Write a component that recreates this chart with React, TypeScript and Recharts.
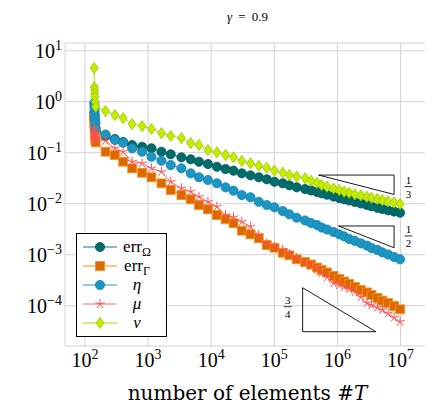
import * as React from "react";
import { CartesianGrid, Legend, Line, LineChart, ReferenceDot, ReferenceLine, XAxis, YAxis } from "recharts";

// number of elements per adaptive step (first few steps stay on the initial mesh)
const elements = [
  140, 141, 142, 143, 144, 146, 148,
  212, 298, 403, 559, 804, 1132, 1629, 2285, 3374, 4733,
  6402, 8879, 12310, 16880, 22580, 30560, 41880, 56700, 75880, 100400,
  135900, 173300, 226100, 306700, 381300, 474400, 560700, 682400, 867400, 1066000,
  1279000, 1535000, 1889000, 2350000, 2924000, 3457000, 4300000, 5155000, 6340000, 7887000, 9811000,
];

const errOmega = [
  0.6, 0.5, 0.45, 0.4, 0.35, 0.3, 0.26,
  0.215, 0.186, 0.162, 0.1416, 0.131, 0.122, 0.1046, 0.0931, 0.0813, 0.0743,
  0.0666, 0.06, 0.0531, 0.0479, 0.0444, 0.0394, 0.036, 0.033, 0.0301, 0.027,
  0.0251, 0.023, 0.021, 0.0194, 0.0182, 0.017, 0.016, 0.015, 0.0138, 0.0129,
  0.0122, 0.0116, 0.0108, 0.0101, 0.00944, 0.00889, 0.00831, 0.00787, 0.00743, 0.00703, 0.00666,
];

const errGamma = [
  0.5, 0.4, 0.32, 0.26, 0.21, 0.18, 0.16,
  0.1046, 0.0901, 0.0666, 0.0494, 0.0405, 0.033, 0.0251, 0.0186, 0.0148, 0.0122,
  0.00944, 0.00777, 0.006, 0.00494, 0.00413, 0.00296, 0.00251, 0.0021, 0.00155, 0.00137,
  0.00109, 0.000973, 0.000813, 0.000719, 0.000643, 0.000561, 0.000501, 0.000448, 0.000382, 0.000334,
  0.000298, 0.000266, 0.000233, 0.000203, 0.000182, 0.000162, 0.000142, 0.000126, 0.000113, 0.0000986, 0.000085,
];

const eta = [
  0.95, 0.8, 0.66, 0.55, 0.46, 0.38, 0.3,
  0.228, 0.1774, 0.157, 0.122, 0.1046, 0.0835, 0.0697, 0.0574, 0.0494, 0.0394,
  0.033, 0.0292, 0.0251, 0.021, 0.018, 0.0148, 0.0134, 0.0109, 0.00944, 0.00849,
  0.00719, 0.00619, 0.00531, 0.00469, 0.00419, 0.00382, 0.00341, 0.00312, 0.00279, 0.00251,
  0.00228, 0.00203, 0.00186, 0.00167, 0.00151, 0.00135, 0.00124, 0.00111, 0.00101, 0.000902, 0.000813,
];

const mu = [
  0.3, 0.27, 0.24, 0.22, 0.2, 0.19, 0.18,
  0.172, 0.122, 0.1046, 0.0666, 0.062, 0.0494, 0.0424, 0.027, 0.02, 0.0172,
  0.0137, 0.0109, 0.00873, 0.006, 0.00541, 0.00444, 0.00354, 0.00243, 0.00167, 0.00144,
  0.00124, 0.00103, 0.000861, 0.000687, 0.0006, 0.000513, 0.000438, 0.000365, 0.000279, 0.000255,
  0.000233, 0.000212, 0.000186, 0.000148, 0.000113, 0.000103, 0.0000922, 0.0000824, 0.0000703, 0.0000587, 0.0000486,
];

const nu = [
  4.6, 1.95, 1.7, 1.45, 1.25, 1.0, 0.8,
  0.657, 0.548, 0.479, 0.365, 0.334, 0.292, 0.243, 0.213, 0.194, 0.155,
  0.142, 0.113, 0.102, 0.0901, 0.0813, 0.0687, 0.062, 0.0556, 0.0508, 0.0444,
  0.0405, 0.0366, 0.0341, 0.0315, 0.0282, 0.0258, 0.0233, 0.0216, 0.0199, 0.0186,
  0.0172, 0.0164, 0.0153, 0.0146, 0.0137, 0.0131, 0.0124, 0.0118, 0.0111, 0.0106, 0.00987,
];

const xTicks = [1e2, 1e3, 1e4, 1e5, 1e6, 1e7];
const yTicks = [1e-4, 1e-3, 1e-2, 1e-1, 1, 10];
const xDecades = [10, 1e2, 1e3, 1e4, 1e5, 1e6, 1e7];
const yDecades = [1e-5, 1e-4, 1e-3, 1e-2, 1e-1, 1];
const minorSteps = [2, 3, 4, 5, 6, 7, 8, 9];

const xDomain = [48.3, 2.82e7];
const yDomain = [1.62e-5, 14.2];

// slope triangles, corners in data coordinates
const triangleThird = [[5.02e5, 0.0365], [7.89e6, 0.0365], [7.89e6, 0.0152]];
const triangleHalf = [[1.04e6, 0.00366], [7.89e6, 0.00366], [7.89e6, 0.00137]];
const triangleThreeQuarter = [[2.81e5, 2.25e-4], [2.81e5, 3.09e-5], [4.06e6, 3.09e-5]];

const slopeLabels = [
  { x: 1.33e7, y: 0.0216, num: "1", den: "3" },
  { x: 1.33e7, y: 0.00233, num: "1", den: "2" },
  { x: 1.63e5, y: 9.55e-5, num: "3", den: "4" },
];

const FONT = "Liberation Serif";
const FRAME = "#444";

const xMinor = xDecades.flatMap((d) => minorSteps.map((m) => m * d)).filter((v) => v > xDomain[0] && v < xDomain[1]);
const yMinor = yDecades.flatMap((d) => minorSteps.map((m) => m * d)).filter((v) => v > yDomain[0] && v < yDomain[1]);

const rows = elements.map((n, i) => ({
  n,
  errOmega: errOmega[i],
  errGamma: errGamma[i],
  eta: eta[i],
  mu: mu[i],
  nu: nu[i],
}));

type MarkKind = "circle" | "square" | "diamond" | "star";

type SeriesDef = {
  key: string;
  kind: MarkKind;
  line: string;
  fill: string;
  stroke: string;
  label: React.ReactNode;
};

const series: SeriesDef[] = [
  {
    key: "errOmega", kind: "circle", line: "#0a7c78", fill: "#006b6b", stroke: "#005a5a",
    label: <>err<tspan fontSize={12} dy={4}>Ω</tspan></>,
  },
  {
    key: "errGamma", kind: "square", line: "#ff8a1a", fill: "#d96a00", stroke: "#ff8a1a",
    label: <>err<tspan fontSize={12} dy={4}>Γ</tspan></>,
  },
  {
    key: "eta", kind: "circle", line: "#2a92bd", fill: "#1c96c3", stroke: "#1482b0",
    label: <tspan fontStyle="italic">η</tspan>,
  },
  {
    key: "mu", kind: "star", line: "#ff6a6a", fill: "none", stroke: "#ff4f4f",
    label: <tspan fontStyle="italic">μ</tspan>,
  },
  {
    key: "nu", kind: "diamond", line: "#a8d600", fill: "#c4ec00", stroke: "#9cc800",
    label: <tspan fontStyle="italic">ν</tspan>,
  },
];

function Mark({ kind, cx, cy, fill, stroke }: { kind: MarkKind; cx?: number; cy?: number; fill: string; stroke: string }) {
  if (cx == null || cy == null || isNaN(cx) || isNaN(cy)) return null;
  if (kind === "circle") {
    return <circle cx={cx} cy={cy} r={4.6} fill={fill} stroke={stroke} strokeWidth={0.8} />;
  }
  if (kind === "square") {
    return <rect x={cx - 4.4} y={cy - 4.4} width={8.8} height={8.8} fill={fill} stroke={stroke} strokeWidth={0.9} />;
  }
  if (kind === "diamond") {
    return (
      <polygon
        points={`${cx},${cy - 5.6} ${cx + 4},${cy} ${cx},${cy + 5.6} ${cx - 4},${cy}`}
        fill={fill}
        stroke={stroke}
        strokeWidth={0.8}
      />
    );
  }
  const rays = [90, 162, 234, 306, 18].map((a) => {
    const r = (a * Math.PI) / 180;
    return [cx + 5 * Math.cos(r), cy - 5 * Math.sin(r)];
  });
  return (
    <g stroke={stroke} strokeWidth={1}>
      {rays.map(([x, y], i) => (
        <line key={i} x1={cx} y1={cy} x2={x} y2={y} />
      ))}
    </g>
  );
}

function XTick({ x, y, payload }: any) {
  const exp = Math.round(Math.log10(payload.value));
  return (
    <text x={x} y={y + 21} textAnchor="middle" style={{ fontFamily: FONT }} fontSize={20} fill="#000">
      10<tspan dy={-8} fontSize={14}>{String(exp).replace("-", "\u2212")}</tspan>
    </text>
  );
}

function YTick({ x, y, payload }: any) {
  const exp = Math.round(Math.log10(payload.value));
  return (
    <text x={x - 3} y={y + 7} textAnchor="end" style={{ fontFamily: FONT }} fontSize={20} fill="#000">
      10<tspan dy={-8} fontSize={14}>{String(exp).replace("-", "\u2212")}</tspan>
    </text>
  );
}

const NoTick = () => <g />;

function LegendBox() {
  return (
    <div style={{ width: 91, height: 104, border: "1px solid #000", background: "#fff", boxSizing: "border-box" }}>
      <svg width={89} height={102} style={{ display: "block" }}>
        {series.map((s, i) => {
          const y = 13 + i * 19;
          return (
            <g key={s.key}>
              <line x1={6} x2={40} y1={y} y2={y} stroke={s.line} strokeWidth={1} />
              <Mark kind={s.kind} cx={23} cy={y} fill={s.fill} stroke={s.stroke} />
              <text x={60} y={y + 5} textAnchor="middle" style={{ fontFamily: FONT }} fontSize={17} fill="#000">
                {s.label}
              </text>
            </g>
          );
        })}
      </svg>
    </div>
  );
}

function Fraction({ cx, cy, num, den }: any) {
  return (
    <g style={{ fontFamily: FONT }} fontSize={11} fill="#000">
      <text x={cx} y={cy - 3} textAnchor="middle">{num}</text>
      <line x1={cx - 4} x2={cx + 4} y1={cy} y2={cy} stroke="#000" strokeWidth={0.8} />
      <text x={cx} y={cy + 11} textAnchor="middle">{den}</text>
    </g>
  );
}

function triangleEdges(tri: number[][]) {
  return tri.map((p, i) => {
    const q = tri[(i + 1) % tri.length];
    return [{ x: p[0], y: p[1] }, { x: q[0], y: q[1] }];
  });
}

const logX = { type: "number" as const, scale: "log" as const, domain: xDomain, allowDataOverflow: true, dataKey: "n" };
const logY = { type: "number" as const, scale: "log" as const, domain: yDomain, allowDataOverflow: true };

export default function App() {
  return (
    <LineChart width={425} height={409} data={rows} margin={{ top: 35, right: 4, bottom: 0, left: 0 }}>
      <CartesianGrid stroke="#d2d2d2" strokeWidth={1} />

      <XAxis {...logX} ticks={xTicks} interval={0} height={71} tickSize={0} tickMargin={0} tickLine={false} axisLine={false} tick={<XTick />} />
      <YAxis {...logY} ticks={yTicks} interval={0} width={57} tickSize={0} tickMargin={0} tickLine={false} axisLine={false} tick={<YTick />} />

      {/* inward tick marks and frame on all four sides */}
      <XAxis {...logX} xAxisId="bMaj" orientation="bottom" mirror height={0} ticks={xTicks} interval={0} tickSize={5} tick={NoTick} tickLine={{ stroke: FRAME }} axisLine={{ stroke: FRAME }} />
      <XAxis {...logX} xAxisId="bMin" orientation="bottom" mirror height={0} ticks={xMinor} interval={0} tickSize={3} tick={NoTick} tickLine={{ stroke: FRAME }} axisLine={false} />
      <XAxis {...logX} xAxisId="tMaj" orientation="top" mirror height={0} ticks={xTicks} interval={0} tickSize={5} tick={NoTick} tickLine={{ stroke: FRAME }} axisLine={{ stroke: FRAME }} />
      <XAxis {...logX} xAxisId="tMin" orientation="top" mirror height={0} ticks={xMinor} interval={0} tickSize={3} tick={NoTick} tickLine={{ stroke: FRAME }} axisLine={false} />
      <YAxis {...logY} yAxisId="lMaj" orientation="left" mirror width={0} ticks={yTicks} interval={0} tickSize={5} tick={NoTick} tickLine={{ stroke: FRAME }} axisLine={{ stroke: FRAME }} />
      <YAxis {...logY} yAxisId="lMin" orientation="left" mirror width={0} ticks={yMinor} interval={0} tickSize={3} tick={NoTick} tickLine={{ stroke: FRAME }} axisLine={false} />
      <YAxis {...logY} yAxisId="rMaj" orientation="right" mirror width={0} ticks={yTicks} interval={0} tickSize={5} tick={NoTick} tickLine={{ stroke: FRAME }} axisLine={{ stroke: FRAME }} />
      <YAxis {...logY} yAxisId="rMin" orientation="right" mirror width={0} ticks={yMinor} interval={0} tickSize={3} tick={NoTick} tickLine={{ stroke: FRAME }} axisLine={false} />

      {[triangleThird, triangleHalf, triangleThreeQuarter].flatMap((tri, t) =>
        triangleEdges(tri).map((seg, i) => (
          <ReferenceLine key={`tri-${t}-${i}`} segment={seg} stroke="#000" strokeWidth={0.9} ifOverflow="visible" />
        ))
      )}
      {slopeLabels.map((f) => (
        <ReferenceDot
          key={`${f.num}/${f.den}`}
          x={f.x}
          y={f.y}
          r={0}
          ifOverflow="visible"
          shape={(p: any) => <Fraction cx={p.cx} cy={p.cy} num={f.num} den={f.den} />}
        />
      ))}

      {series.map((s) => (
        <Line
          key={s.key}
          dataKey={s.key}
          type="linear"
          stroke={s.line}
          strokeWidth={1}
          isAnimationActive={false}
          dot={(p: any) => <Mark key={p.index} kind={s.kind} cx={p.cx} cy={p.cy} fill={s.fill} stroke={s.stroke} />}
          activeDot={false}
        />
      ))}

      <Legend
        layout="vertical"
        align="center"
        verticalAlign="middle"
        content={() => <LegendBox />}
        wrapperStyle={{ left: 68, top: 225, width: 91, height: 104 }}
      />

      <text x={239.5} y={13} textAnchor="middle" style={{ fontFamily: FONT, wordSpacing: 3 }} fontSize={13} fill="#000">
        <tspan fontStyle="italic">γ</tspan> = 0.9
      </text>
      <text x={239.5} y={392} textAnchor="middle" style={{ fontFamily: "DejaVu Serif" }} fontSize={20} fill="#000">
        number of elements #<tspan fontStyle="italic">T</tspan>
      </text>
    </LineChart>
  );
}
